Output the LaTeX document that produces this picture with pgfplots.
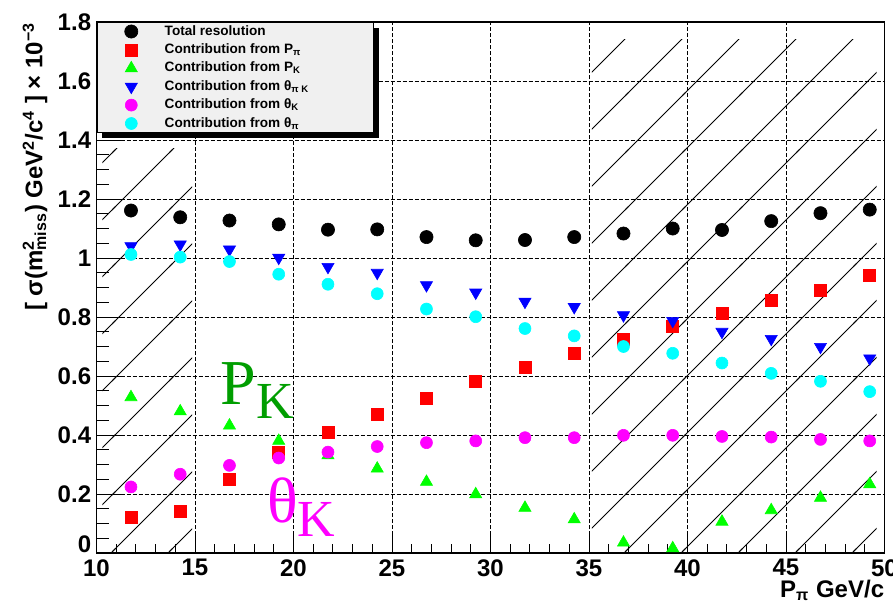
\documentclass[border=0pt]{standalone}
\usepackage{fontspec}
\setmainfont{Liberation Sans}
\newfontfamily\serifx{Liberation Serif}
\usepackage{pgfplots}
\pgfplotsset{compat=1.18}
\usetikzlibrary{patterns.meta,shadows}
\definecolor{pkgreen}{rgb}{0,0.62,0}
\definecolor{rmag}{rgb}{1,0,1}
\definecolor{rcyan}{rgb}{0,1,1}
\definecolor{rgreen}{rgb}{0,1,0}
\definecolor{rblue}{rgb}{0,0,1}
\definecolor{rred}{rgb}{1,0,0}
\tikzdeclarepattern{
  name=roothatch,
  type=uncolored,
  bounding box={(-1pt,-1pt) and (29.5pt,29.5pt)},
  tile size={(28.5pt,28.5pt)},
  code={\draw[line width=0.45pt] (-1pt,-1pt) -- (29.5pt,29.5pt);}
}
\pgfplotstableread{
x      tot    ppi    pk     thpk   thk    thpi
11.75  1.161  0.121  0.528  1.040  0.224  1.012
14.25  1.138  0.143  0.480  1.046  0.267  1.003
16.75  1.127  0.250  0.432  1.029  0.297  0.988
19.25  1.114  0.342  0.380  1.001  0.322  0.945
21.75  1.096  0.408  0.331  0.970  0.342  0.911
24.25  1.097  0.470  0.286  0.950  0.361  0.879
26.75  1.071  0.526  0.241  0.908  0.374  0.827
29.25  1.060  0.582  0.199  0.883  0.380  0.801
31.75  1.061  0.630  0.153  0.852  0.391  0.761
34.25  1.071  0.677  0.114  0.834  0.391  0.736
36.75  1.083  0.725  0.035  0.806  0.399  0.700
39.25  1.100  0.767  0.016  0.787  0.399  0.677
41.75  1.095  0.812  0.106  0.750  0.395  0.644
44.25  1.125  0.855  0.145  0.726  0.393  0.609
46.75  1.152  0.892  0.187  0.699  0.385  0.582
49.25  1.164  0.943  0.233  0.660  0.380  0.547
}\datatable
\begin{document}
\begin{tikzpicture}
\useasboundingbox[fill=white] (0,0) rectangle (446.5pt,303.5pt);
\begin{axis}[
  at={(48.25pt,27pt)}, anchor=south west,
  scale only axis, width=394pt, height=265.5pt,
  xmin=10, xmax=50, ymin=0, ymax=1.8,
  xtick={10,15,20,25,30,35,40,45,50},
  ytick={0,0.2,0.4,0.6,0.8,1,1.2,1.4,1.6,1.8},
  yticklabels={\raisebox{4.5pt}[8.6pt][0pt]{0},0.2,0.4,0.6,0.8,1,1.2,1.4,1.6,1.8},
  minor x tick num=4, minor y tick num=3,
  tick align=inside, tick pos=left,
  xtick style={/pgfplots/major tick length=9pt, /pgfplots/minor tick length=4.5pt, black, line width=0.5pt},
  ytick style={/pgfplots/major tick length=12pt, /pgfplots/minor tick length=6pt, black, line width=0.5pt},
  grid=major,
  major grid style={black, line width=0.45pt, dash pattern=on 2pt off 1pt},
  axis line style={line width=0.7pt},
  /pgf/number format/assume math mode=true,
  ticklabel style={font=\bfseries\fontsize{12}{14}\selectfont},
  xticklabel style={inner sep=0pt, yshift=-3pt},
  yticklabel style={inner sep=0pt, xshift=-2.5pt},
  xlabel={P\textsubscript{π} GeV/c},
  xlabel style={at={(axis description cs:1,0)}, anchor=base east, yshift=-22pt, inner sep=0pt, font=\bfseries\fontsize{12}{14}\selectfont},
  ylabel={[ σ(m\rlap{\textsuperscript{2}}\textsubscript{miss}) GeV\textsuperscript{2}/c\textsuperscript{4} ] × 10\textsuperscript{−3}},
  ylabel style={at={(axis description cs:-0.078,1)}, anchor=east, inner sep=0pt, font=\bfseries\fontsize{12}{14}\selectfont},
  legend style={at={(0,1)}, anchor=north west, draw=black, line width=0.4pt, fill=black!6,
    font=\bfseries\fontsize{6.8}{8}\selectfont, inner xsep=3pt, inner ysep=0.3pt,
    row sep=0.7pt, column sep=2pt, nodes={inner sep=0.5pt, text height=5.5pt, text depth=2pt},
    general shadow={fill=black, shadow xshift=2.75pt, shadow yshift=-2.75pt}},
  legend cell align=left,
  legend image code/.code={\path (0pt,0pt) (28pt,0pt); \draw[mark repeat=2,mark phase=2,#1] plot coordinates {(0pt,0pt) (14pt,0pt) (28pt,0pt)};},
]
\addplot[draw=none, pattern=roothatch, no markers, forget plot] coordinates {(10.3,1.37) (14.85,1.37)} \closedcycle;
\addplot[draw=none, pattern=roothatch, no markers, forget plot] coordinates {(35.15,1.74) (49.6,1.74)} \closedcycle;
\addplot[only marks, mark=*, mark size=3.3pt, black, mark options={line width=0.3pt}] table[x=x,y=tot] {\datatable};
\addlegendentry{\makebox[101pt][l]{Total resolution}}
\addplot[only marks, mark=square*, mark size=3pt, rred, mark options={line width=0.3pt}] table[x=x,y=ppi] {\datatable};
\addlegendentry{Contribution from P\textsubscript{π}}
\addplot[only marks, mark=triangle*, mark size=3.5pt, rgreen, mark options={line width=0.3pt}] table[x=x,y=pk] {\datatable};
\addlegendentry{Contribution from P\textsubscript{K}}
\addplot[only marks, mark=triangle*, mark size=3.5pt, rblue, mark options={rotate=180, line width=0.3pt}] table[x=x,y=thpk] {\datatable};
\addlegendentry{Contribution from θ\textsubscript{π K}}
\addplot[only marks, mark=*, mark size=3pt, rmag, mark options={line width=0.3pt}] table[x=x,y=thk] {\datatable};
\addlegendentry{Contribution from θ\textsubscript{K}}
\addplot[only marks, mark=*, mark size=3pt, rcyan, mark options={line width=0.3pt}] table[x=x,y=thpi] {\datatable};
\addlegendentry{Contribution from θ\textsubscript{π}}
\node[anchor=base west, inner sep=0pt, text=pkgreen, font=\serifx] at (axis cs:16.27,0.502) {\fontsize{32}{32}\selectfont P\raisebox{-7pt}{\fontsize{26}{26}\selectfont K}};
\node[anchor=base west, inner sep=0pt, text=rmag, font=\serifx] at (axis cs:18.65,0.102) {\fontsize{32}{32}\selectfont θ\raisebox{-7pt}{\fontsize{26}{26}\selectfont K}};
\end{axis}
\end{tikzpicture}
\end{document}
